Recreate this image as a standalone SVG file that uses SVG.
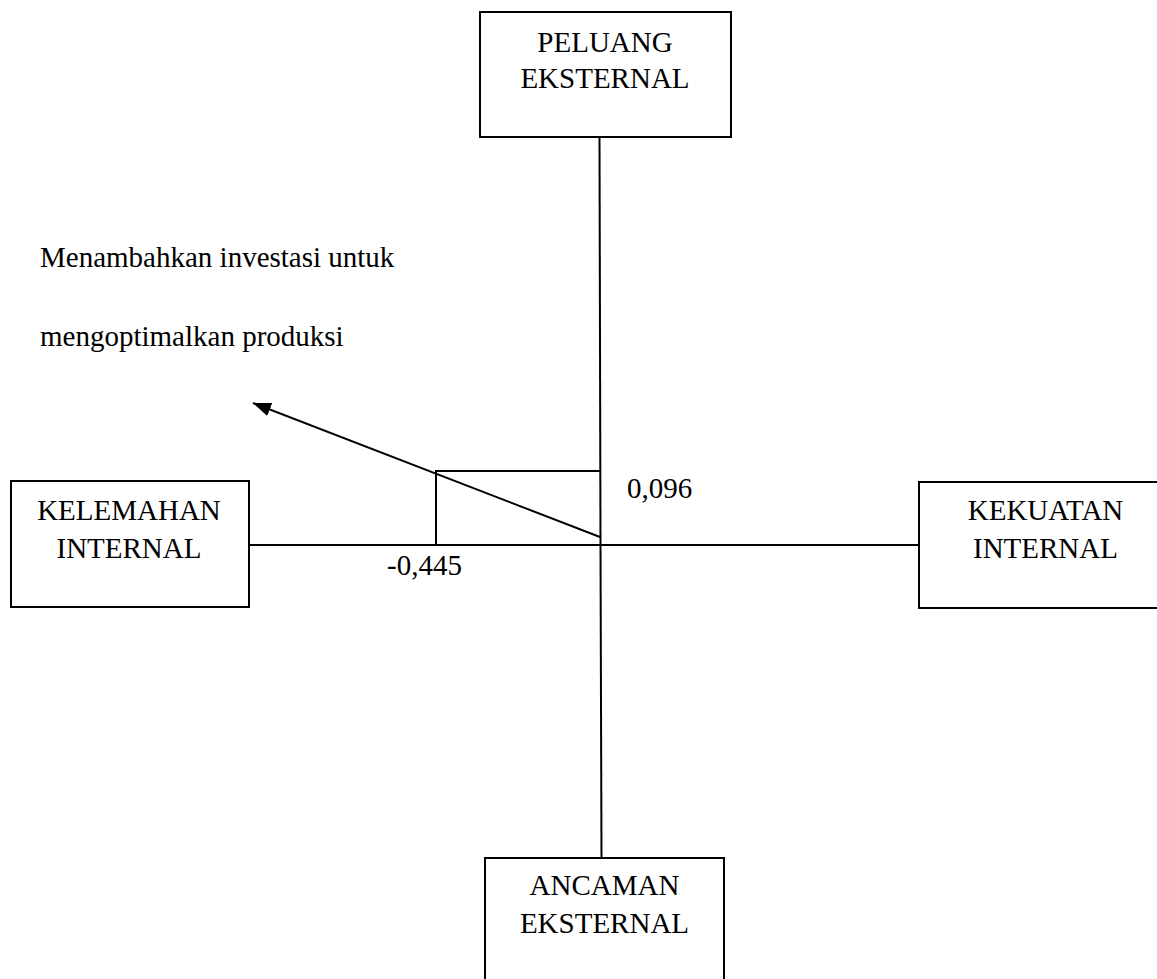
<svg xmlns="http://www.w3.org/2000/svg" width="1157" height="979" viewBox="0 0 1157 979">
<style>
.box{fill:#fff;stroke:#000;stroke-width:2}
.ln{fill:none;stroke:#000;stroke-width:2}
text{font-family:"Liberation Serif","Times New Roman",serif;font-size:29px;fill:#000}
.c{text-anchor:middle}
</style>
<defs>
<marker id="ah" markerUnits="userSpaceOnUse" markerWidth="20" markerHeight="14" refX="18" refY="7" orient="auto">
<path d="M0,0 L18,7 L0,14 Z" fill="#000"/>
</marker>
</defs>
<rect width="1157" height="979" fill="#fff"/>
<g id="connectors">
<line class="ln" x1="599.5" y1="137" x2="600.5" y2="545"/>
<line class="ln" x1="600.5" y1="545" x2="601.5" y2="858"/>
<line class="ln" x1="249" y1="545" x2="919" y2="545"/>
<polyline class="ln" points="600,471 436,471 436,545"/>
<line class="ln" x1="600" y1="537" x2="253" y2="403" marker-end="url(#ah)"/>
</g>
<g id="peluang">
<rect class="box" x="480" y="12" width="251" height="125"/>
<text class="c" x="605" y="52">PELUANG</text>
<text class="c" x="605" y="88">EKSTERNAL</text>
</g>
<g id="kelemahan">
<rect class="box" x="11" y="481" width="238" height="126"/>
<text class="c" x="129" y="520">KELEMAHAN</text>
<text class="c" x="129" y="558">INTERNAL</text>
</g>
<g id="kekuatan">
<rect class="box" x="919" y="482" width="260" height="126"/>
<text class="c" x="1045.5" y="520">KEKUATAN</text>
<text class="c" x="1045.5" y="558">INTERNAL</text>
</g>
<g id="ancaman">
<rect class="box" x="485" y="858" width="239" height="140"/>
<text class="c" x="604.5" y="895">ANCAMAN</text>
<text class="c" x="604.5" y="933">EKSTERNAL</text>
</g>
<g id="labels">
<text x="40" y="267">Menambahkan investasi untuk</text>
<text x="40" y="346">mengoptimalkan produksi</text>
<text x="627" y="498">0,096</text>
<text x="387" y="575">-0,445</text>
</g>
</svg>
